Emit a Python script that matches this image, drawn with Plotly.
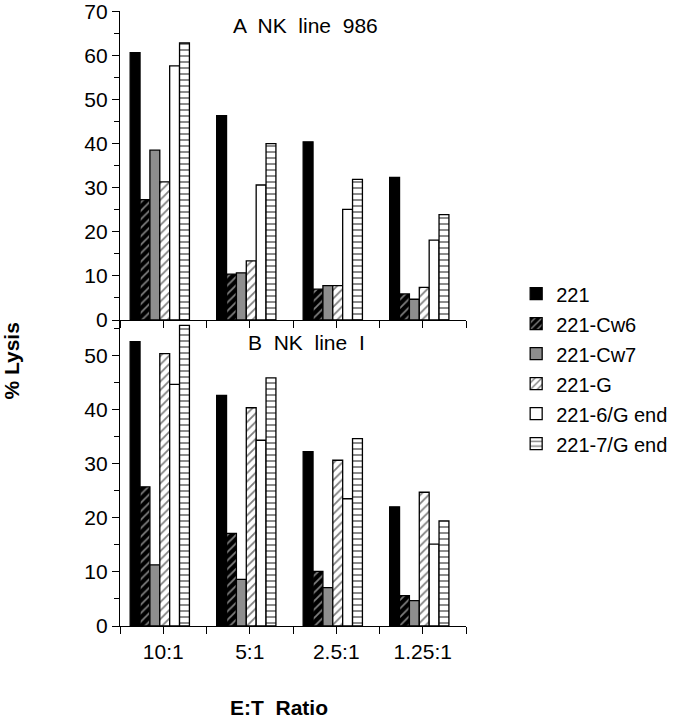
import plotly.graph_objects as go

categories = ["10:1", "5:1", "2.5:1", "1.25:1"]
series_names = ["221", "221-Cw6", "221-Cw7", "221-G", "221-6/G end", "221-7/G end"]

# Panel A: NK line 986
a_221 = [60.6, 46.3, 40.4, 32.3]
a_cw6 = [27.3, 10.4, 7.0, 5.9]
a_cw7 = [38.5, 10.7, 7.8, 4.7]
a_g = [31.3, 13.4, 7.8, 7.4]
a_6g = [57.6, 30.6, 25.1, 18.1]
a_7g = [62.8, 40.0, 31.9, 23.9]

# Panel B: NK line I
b_221 = [52.5, 42.6, 32.2, 22.0]
b_cw6 = [25.7, 17.1, 10.1, 5.6]
b_cw7 = [11.3, 8.6, 7.1, 4.7]
b_g = [50.3, 40.3, 30.6, 24.7]
b_6g = [44.6, 34.3, 23.5, 15.1]
b_7g = [55.5, 45.8, 34.6, 19.4]

panel_a = [a_221, a_cw6, a_cw7, a_g, a_6g, a_7g]
panel_b = [b_221, b_cw6, b_cw7, b_g, b_6g, b_7g]

styles = [
    dict(color="black", pattern=dict(shape="")),
    dict(color="black", pattern=dict(shape="/", fgcolor="white", bgcolor="black", size=6, solidity=0.3)),
    dict(color="#8e8e8e", pattern=dict(shape="")),
    dict(color="white", pattern=dict(shape="/", fgcolor="black", bgcolor="white", size=6, solidity=0.3)),
    dict(color="white", pattern=dict(shape="")),
    dict(color="white", pattern=dict(shape="-", fgcolor="black", bgcolor="white", size=6, solidity=0.3)),
]

FONT = "Arial, Liberation Sans, Helvetica, sans-serif"
pos = list(range(len(categories)))

fig = go.Figure()
for i, name in enumerate(series_names):
    st = styles[i]
    fig.add_trace(go.Bar(
        x=pos, y=panel_a[i], name=name, xaxis="x2", yaxis="y2",
        marker=dict(color=st["color"], pattern=st["pattern"], line=dict(color="black", width=1.3)),
        legendgroup=name, showlegend=True,
    ))
for i, name in enumerate(series_names):
    st = styles[i]
    fig.add_trace(go.Bar(
        x=pos, y=panel_b[i], name=name, xaxis="x", yaxis="y",
        marker=dict(color=st["color"], pattern=st["pattern"], line=dict(color="black", width=1.3)),
        legendgroup=name, showlegend=False,
    ))

xr = [-0.46, 3.54]
tickv = [p + 0.04 for p in pos]
xcommon = dict(
    range=xr, showline=True, linecolor="black", linewidth=1.3, ticks="outside",
    ticklen=7, tickwidth=1.3, tickcolor="black", tickvals=tickv, showgrid=False, zeroline=False,
    automargin=False,
    minor=dict(ticks="outside", tick0=-0.46, dtick=1, ticklen=7, tickwidth=1.3, tickcolor="black"),
)
ycommon = dict(
    showline=True, linecolor="black", linewidth=1.3, ticks="outside", ticklen=7, tickwidth=1.3,
    tickcolor="black", dtick=10, tick0=0, showgrid=False, zeroline=False, automargin=False,
    ticklabeloverflow="allow",
    tickfont=dict(family=FONT, size=21, color="black"),
    minor=dict(ticks="outside", dtick=5, tick0=0, ticklen=5, tickwidth=1.3, tickcolor="black"),
)
split = 306 / 615

fig.update_layout(
    width=674, height=720,
    margin=dict(l=120, r=208, t=11, b=94, autoexpand=False),
    paper_bgcolor="white", plot_bgcolor="white",
    barmode="group", bargap=0.315, bargroupgap=0,
    font=dict(family=FONT, size=20, color="black"),
    xaxis=dict(**xcommon, anchor="y", domain=[0, 1], ticktext=categories,
               tickfont=dict(family=FONT, size=21, color="black")),
    yaxis=dict(**ycommon, anchor="x", domain=[0, split], range=[0, 56.5]),
    xaxis2=dict(**xcommon, anchor="y2", domain=[0, 1], showticklabels=False),
    yaxis2=dict(**ycommon, anchor="x2", domain=[split, 1], range=[0, 70.05]),
    legend=dict(x=1.145, y=0.572, xanchor="left", yanchor="top", font=dict(size=20),
                tracegroupgap=1, bgcolor="rgba(0,0,0,0)"),
    annotations=[
        dict(text="A  NK  line  986", x=0.535, y=1, xref="paper", yref="paper",
             xanchor="center", yanchor="middle", yshift=-14, showarrow=False, font=dict(size=21)),
        dict(text="B  NK  line  I", x=0.54, y=split, xref="paper", yref="paper",
             xanchor="center", yanchor="middle", yshift=-22, showarrow=False, font=dict(size=21)),
        dict(text="<b>% Lysis</b>", x=-0.312, y=0.43, xref="paper", yref="paper",
             textangle=-90, xanchor="center", yanchor="middle", showarrow=False, font=dict(size=21)),
        dict(text="<b>E:T  Ratio</b>", x=0.46, y=0, xref="paper", yref="paper",
             xanchor="center", yanchor="middle", yshift=-81, showarrow=False, font=dict(size=21)),
    ],
)

fig.write_html("out.html", config={"displayModeBar": False},
               post_script="document.body.style.margin='0';")
